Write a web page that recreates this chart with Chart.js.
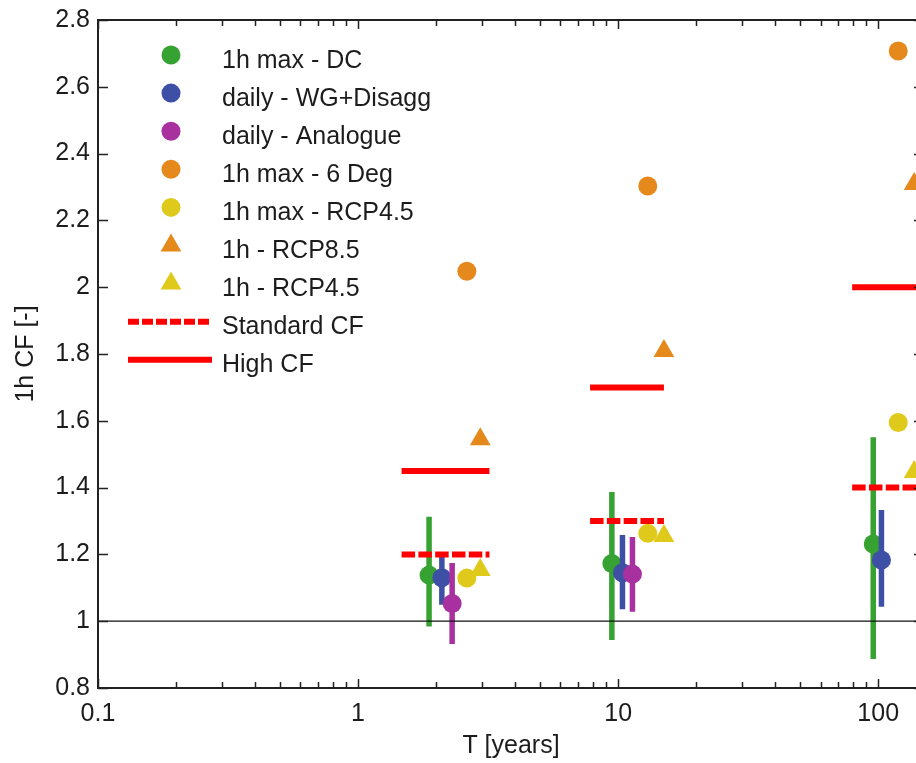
<!DOCTYPE html>
<html>
<head>
<meta charset="utf-8">
<script src="https://cdn.jsdelivr.net/npm/chart.js@4"></script>
<style>
  html, body { margin: 0; padding: 0; background: #fff; overflow: hidden; }
  canvas { display: block; }
</style>
</head>
<body>
<canvas id="c" width="924" height="763"></canvas>
<script>
// ---------- data ----------
const xMin = 0.1, xMax = 150;
const yMin = 0.8, yMax = 2.8;
const xTickValues = [0.1, 1, 10, 100];
const xTickLabels = ['0.1', '1', '10', '100'];
const yTickValues = [0.8, 1.0, 1.2, 1.4, 1.6, 1.8, 2.0, 2.2, 2.4, 2.6, 2.8];
const yTickLabels = ['0.8', '1', '1.2', '1.4', '1.6', '1.8', '2', '2.2', '2.4', '2.6', '2.8'];

// 1h max - DC (green)
const dcT    = [1.875, 9.46, 95.7];
const dcY    = [1.138, 1.173, 1.231];
const dcLow  = [0.984, 0.944, 0.887];
const dcHigh = [1.313, 1.387, 1.551];
// daily - WG+Disagg (blue)
const wgT    = [2.10, 10.39, 102.9];
const wgY    = [1.130, 1.145, 1.183];
const wgLow  = [1.049, 1.036, 1.043];
const wgHigh = [1.197, 1.258, 1.333];
// daily - Analogue (magenta)
const anT    = [2.30, 11.35];
const anY    = [1.053, 1.141];
const anLow  = [0.932, 1.028];
const anHigh = [1.174, 1.252];
// 1h max - 6 Deg (orange circles)
const sixDegT = [2.62, 13.0, 119.4];
const sixDegY = [2.048, 2.303, 2.707];
// 1h max - RCP4.5 (yellow circles)
const maxRcp45T = [2.62, 13.0, 119.4];
const maxRcp45Y = [1.129, 1.263, 1.595];
// 1h - RCP8.5 (orange triangles)
const rcp85T = [2.95, 15.0, 137.5];
const rcp85Y = [1.545, 1.809, 2.309];
// 1h - RCP4.5 (yellow triangles)
const rcp45T = [2.95, 15.0, 137.5];
const rcp45Y = [1.153, 1.255, 1.447];
// climate factor segments
const cfStartT   = [1.47, 7.8, 79.4];
const cfEndT     = [3.2, 15.0, 150];
const standardCF = [1.2, 1.3, 1.4];
const highCF     = [1.45, 1.7, 2.0];

const legendLabels = ['1h max - DC', 'daily - WG+Disagg', 'daily - Analogue', '1h max - 6 Deg',
  '1h max - RCP4.5', '1h - RCP8.5', '1h - RCP4.5', 'Standard CF', 'High CF'];

// ---------- styles ----------
const GREEN = '#36a232', BLUE = '#3e4fa6', MAGENTA = '#a8309f', ORANGE = '#e6891d', YELLOW = '#dfc91b', RED = '#ff0000';
const FONT = "'Liberation Sans', Arial, Helvetica, sans-serif";
const TXT = '#1c1c1c';

// ---------- builders ----------
const pts = (xs, ys) => xs.map((x, i) => ({ x, y: ys[i] }));
function bars(xs, lo, hi) {
  const out = [];
  xs.forEach((x, i) => { out.push({ x, y: lo[i] }, { x, y: hi[i] }, { x, y: null }); });
  return out;
}
function segs(x0, x1, ys) {
  const out = [];
  ys.forEach((y, i) => { out.push({ x: x0[i], y }, { x: x1[i], y }, { x: x1[i], y: null }); });
  return out;
}
function barSet(data, color, order) {
  return { data, showLine: true, spanGaps: false, borderColor: color, borderWidth: 5.5,
    borderCapStyle: 'butt', pointRadius: 0, order };
}
function markerSet(data, color, style, r, order) {
  return { data, showLine: false, pointStyle: style, pointRadius: r, pointBackgroundColor: color,
    pointBorderWidth: 0, pointBorderColor: color, order };
}

const datasets = [
  barSet(bars(dcT, dcLow, dcHigh), GREEN, 30),
  markerSet(pts(dcT, dcY), GREEN, 'circle', 9.5, 29),
  barSet(bars(wgT, wgLow, wgHigh), BLUE, 28),
  markerSet(pts(wgT, wgY), BLUE, 'circle', 9.5, 27),
  barSet(bars(anT, anLow, anHigh), MAGENTA, 26),
  markerSet(pts(anT, anY), MAGENTA, 'circle', 9.5, 25),
  markerSet(pts(sixDegT, sixDegY), ORANGE, 'circle', 9.5, 24),
  markerSet(pts(maxRcp45T, maxRcp45Y), YELLOW, 'circle', 9.5, 23),
  markerSet(pts(rcp85T, rcp85Y), ORANGE, 'triangle', 12, 22),
  markerSet(pts(rcp45T, rcp45Y), YELLOW, 'triangle', 12, 21),
  { data: [{ x: xMin, y: 1 }, { x: xMax, y: 1 }], showLine: true, borderColor: '#111', borderWidth: 1.3, pointRadius: 0, order: 3 },
  { data: segs(cfStartT, cfEndT, standardCF), showLine: true, spanGaps: false, borderColor: RED, borderWidth: 6,
    borderDash: [13.5, 3.3], borderCapStyle: 'butt', pointRadius: 0, order: 2 },
  { data: segs(cfStartT, cfEndT, highCF), showLine: true, spanGaps: false, borderColor: RED, borderWidth: 6,
    borderCapStyle: 'butt', pointRadius: 0, order: 1 },
];

const legendItems = [
  { type: 'circle', color: GREEN }, { type: 'circle', color: BLUE }, { type: 'circle', color: MAGENTA },
  { type: 'circle', color: ORANGE }, { type: 'circle', color: YELLOW },
  { type: 'triangle', color: ORANGE }, { type: 'triangle', color: YELLOW },
  { type: 'dash', color: RED }, { type: 'line', color: RED },
];

// ---------- plugins ----------
const frameTicks = {
  id: 'frameTicks',
  afterDatasetsDraw(chart) {
    const { ctx, chartArea: a, scales: { x, y } } = chart;
    ctx.save();
    ctx.strokeStyle = '#222';
    ctx.lineWidth = 2;
    ctx.strokeRect(a.left, a.top, a.right - a.left, a.bottom - a.top);
    ctx.lineWidth = 1.5;
    ctx.beginPath();
    yTickValues.forEach(v => {
      const py = Math.round(y.getPixelForValue(v)) + 0.5;
      ctx.moveTo(a.left, py); ctx.lineTo(a.left + 10, py);
      ctx.moveTo(a.right, py); ctx.lineTo(a.right - 10, py);
    });
    for (let e = -1; e <= 2; e++) {
      for (let m = 1; m <= 9; m++) {
        const v = m * Math.pow(10, e);
        if (v > xMax) break;
        const px = Math.round(x.getPixelForValue(v)) + 0.5;
        const len = m === 1 ? 9 : 6;
        ctx.moveTo(px, a.bottom); ctx.lineTo(px, a.bottom - len);
        ctx.moveTo(px, a.top); ctx.lineTo(px, a.top + len);
      }
    }
    ctx.stroke();
    ctx.restore();
  },
  afterDraw(chart) {
    const { ctx, chartArea: a } = chart;
    ctx.save();
    const markerX = a.left + 73, textX = a.left + 124, y0 = a.top + 35, step = 38.1;
    legendItems.forEach((it, i) => {
      const yy = y0 + i * step;
      ctx.fillStyle = it.color;
      ctx.strokeStyle = it.color;
      if (it.type === 'circle' || it.type === 'triangle') {
        Chart.helpers.drawPoint(ctx, { pointStyle: it.type, radius: it.type === 'circle' ? 9.5 : 12, borderWidth: 0, rotation: 0 }, markerX, yy);
      } else {
        ctx.lineWidth = 6;
        ctx.lineCap = 'butt';
        ctx.setLineDash(it.type === 'dash' ? [11, 3] : []);
        ctx.beginPath();
        ctx.moveTo(a.left + 30, yy); ctx.lineTo(a.left + 114, yy);
        ctx.stroke();
        ctx.setLineDash([]);
      }
      ctx.fillStyle = TXT;
      ctx.font = '25px ' + FONT;
      ctx.textAlign = 'left';
      ctx.textBaseline = 'alphabetic';
      ctx.fillText(legendLabels[i], textX, yy + 12.5);
    });
    ctx.restore();
  }
};

Chart.defaults.font.family = FONT;
Chart.defaults.font.size = 25;
Chart.defaults.color = TXT;

new Chart(document.getElementById('c'), {
  type: 'scatter',
  data: { datasets },
  plugins: [frameTicks],
  options: {
    responsive: false,
    animation: false,
    events: [],
    layout: { padding: { top: 20, right: 0, left: 0, bottom: 0 }, autoPadding: false },
    plugins: { legend: { display: false }, tooltip: { enabled: false } },
    scales: {
      x: {
        type: 'logarithmic', min: xMin, max: xMax,
        grid: { display: false, drawTicks: false },
        border: { display: false },
        afterBuildTicks: s => { s.ticks = xTickValues.map(v => ({ value: v })); },
        ticks: { autoSkip: false, maxRotation: 0, padding: 11, font: { size: 25 },
          callback: (v) => { const i = xTickValues.indexOf(v); return i >= 0 ? xTickLabels[i] : ''; } },
        title: { display: true, text: 'T [years]', font: { size: 25 }, padding: { top: 0, bottom: 2 } },
        afterFit: s => { s.height = 75; s.paddingLeft = 0; s.paddingRight = 0; s.paddingTop = 0; s.paddingBottom = 0; }
      },
      y: {
        type: 'linear', min: yMin, max: yMax,
        grid: { display: false, drawTicks: false },
        border: { display: false },
        afterBuildTicks: s => { s.ticks = yTickValues.map(v => ({ value: v })); },
        ticks: { autoSkip: false, padding: 8, font: { size: 25 },
          callback: (v) => { const i = yTickValues.findIndex(t => Math.abs(t - v) < 1e-9); return i >= 0 ? yTickLabels[i] : ''; } },
        title: { display: true, text: '1h CF [-]', font: { size: 25 }, padding: { top: 11, bottom: 0 } },
        afterFit: s => { s.width = 98; s.paddingLeft = 0; s.paddingRight = 0; s.paddingTop = 0; s.paddingBottom = 0; }
      }
    }
  }
});
</script>
</body>
</html>
